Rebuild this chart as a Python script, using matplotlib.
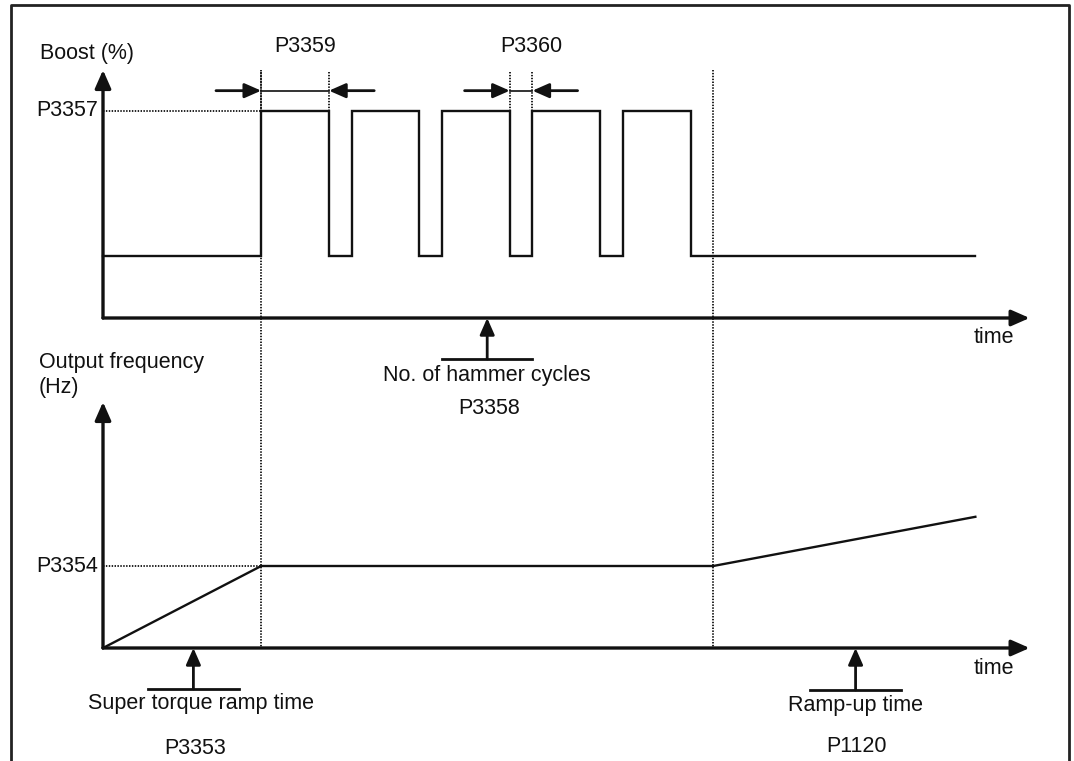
import matplotlib
matplotlib.use("Agg")
import matplotlib.pyplot as plt
from matplotlib.lines import Line2D
from matplotlib import transforms

plt.rcParams['font.family'] = ['Liberation Sans', 'DejaVu Sans']

# ---------------- data (schematic time units) ----------------
boost_edges = [0, 7, 10, 11, 14, 15, 18, 19, 22, 23, 26, 38.6]
boost_levels = [30, 100, 30, 100, 30, 100, 30, 100, 30, 100, 30]
boost_high = 100
boost_axis_top = 120

freq_time = [0, 7, 27, 38.6]
freq_vals = [0, 50, 50, 80]
freq_level = 50
freq_axis_top = 150

time_axis_end = 41
t_hammer_start = 7
t_hammer_end = 27
p3359_span = (7, 10)
p3360_span = (18, 19)
hammer_pointer_t = 17
super_torque_pointer_t = 4
rampup_pointer_t = 33.3

# ---------------- figure ----------------
W, H = 1074, 761
fig = plt.figure(figsize=(W / 100, H / 100), dpi=100)
fig.patch.set_facecolor('white')

def fx(px):
    return px / W

def fy(py):
    return 1 - py / H

X0 = 103
PX_T = 22.6
ax_w = time_axis_end * PX_T
ax_top = fig.add_axes([fx(X0), fy(318), ax_w / W, (318 - 70) / H])
ax_bot = fig.add_axes([fx(X0), fy(648), ax_w / W, (648 - 402) / H])
ax_top.set_xlim(0, time_axis_end)
ax_bot.set_xlim(0, time_axis_end)
ax_top.set_ylim(0, boost_axis_top)
ax_bot.set_ylim(0, freq_axis_top)
for a in (ax_top, ax_bot):
    a.axis('off')

K = '#111111'
AX_LW = 2.4
SIG_LW = 1.7
FS = 15.5
DOT = (0, (0.8, 0.8))
DOT_LW = 1.3
HEAD = '-|>,head_length=0.5,head_width=0.22'

def axis_arrows(ax, ytop):
    ax.annotate('', xy=(0, ytop), xytext=(0, 0),
                arrowprops=dict(arrowstyle=HEAD, lw=AX_LW, color=K,
                                mutation_scale=22, shrinkA=0, shrinkB=0),
                annotation_clip=False)
    ax.annotate('', xy=(time_axis_end, 0), xytext=(0, 0),
                arrowprops=dict(arrowstyle=HEAD, lw=AX_LW, color=K,
                                mutation_scale=22, shrinkA=0, shrinkB=0),
                annotation_clip=False)

axis_arrows(ax_top, boost_axis_top)
axis_arrows(ax_bot, freq_axis_top)

# boost signal
ax_top.step(boost_edges, boost_levels + [boost_levels[-1]], where='post',
            color=K, lw=SIG_LW, clip_on=False, solid_joinstyle='miter')
# frequency signal
ax_bot.plot(freq_time, freq_vals, color=K, lw=SIG_LW, clip_on=False)

# dotted reference lines
ax_top.plot([0, t_hammer_start], [boost_high, boost_high], ls=DOT,
            color=K, lw=DOT_LW, clip_on=False)
ax_bot.plot([0, t_hammer_start], [freq_level, freq_level], ls=DOT,
            color=K, lw=DOT_LW, clip_on=False)

blend = transforms.blended_transform_factory(ax_top.transData, fig.transFigure)
for t in (t_hammer_start, t_hammer_end):
    ax_top.plot([t, t], [fy(70), fy(648)], transform=blend, ls=DOT,
                color=K, lw=DOT_LW, clip_on=False)

# width markers (P3359 / P3360)
for (ta, tb) in (p3359_span, p3360_span):
    for t in (ta, tb):
        ax_top.plot([t, t], [boost_axis_top - 1, boost_high], ls=DOT,
                    color=K, lw=DOT_LW, clip_on=False)
    ax_top.plot([ta, tb], [110, 110], color=K, lw=1.2, clip_on=False)
    ax_top.annotate('', xy=(ta, 110), xytext=(ta - 2, 110),
                    arrowprops=dict(arrowstyle=HEAD, lw=2.0, color=K,
                                    mutation_scale=20, shrinkA=0, shrinkB=0),
                    annotation_clip=False)
    ax_top.annotate('', xy=(tb, 110), xytext=(tb + 2, 110),
                    arrowprops=dict(arrowstyle=HEAD, lw=2.0, color=K,
                                    mutation_scale=20, shrinkA=0, shrinkB=0),
                    annotation_clip=False)

# pointer arrows to time axes
def pointer(ax, t, bar_py):
    bl = transforms.blended_transform_factory(ax.transData, fig.transFigure)
    ax.annotate('', xy=(t, 0), xycoords='data',
                xytext=(t, fy(bar_py)), textcoords=bl,
                arrowprops=dict(arrowstyle=HEAD, lw=2.0, color=K,
                                mutation_scale=20, shrinkA=0, shrinkB=0),
                annotation_clip=False)
    ax.plot([t - 2, t + 2], [fy(bar_py), fy(bar_py)], transform=bl,
            color=K, lw=2.0, clip_on=False)

pointer(ax_top, hammer_pointer_t, 359)
pointer(ax_bot, super_torque_pointer_t, 689)
pointer(ax_bot, rampup_pointer_t, 690)

# texts
def txt(px, py, s, ha='center'):
    fig.text(fx(px), fy(py), s, ha=ha, va='center', fontsize=FS, color=K)

txt(40, 53, 'Boost (%)', ha='left')
txt(98, 111, 'P3357', ha='right')
txt(305, 47, 'P3359')
txt(531, 47, 'P3360')
txt(994, 337, 'time')
txt(487, 376, 'No. of hammer cycles')
txt(489, 408, 'P3358')
txt(39, 362, 'Output frequency', ha='left')
txt(39, 387, '(Hz)', ha='left')
txt(98, 566, 'P3354', ha='right')
txt(994, 668, 'time')
txt(201, 703, 'Super torque ramp time')
txt(195, 748, 'P3353')
txt(855, 705, 'Ramp-up time')
txt(856, 747, 'P1120')

# outer frame
fig.add_artist(Line2D([fx(11), fx(11), fx(1069), fx(1069)],
                      [0, fy(5), fy(5), 0], transform=fig.transFigure,
                      color='#222222', lw=2.0))

fig.savefig('out.png', dpi=100, facecolor='white')
